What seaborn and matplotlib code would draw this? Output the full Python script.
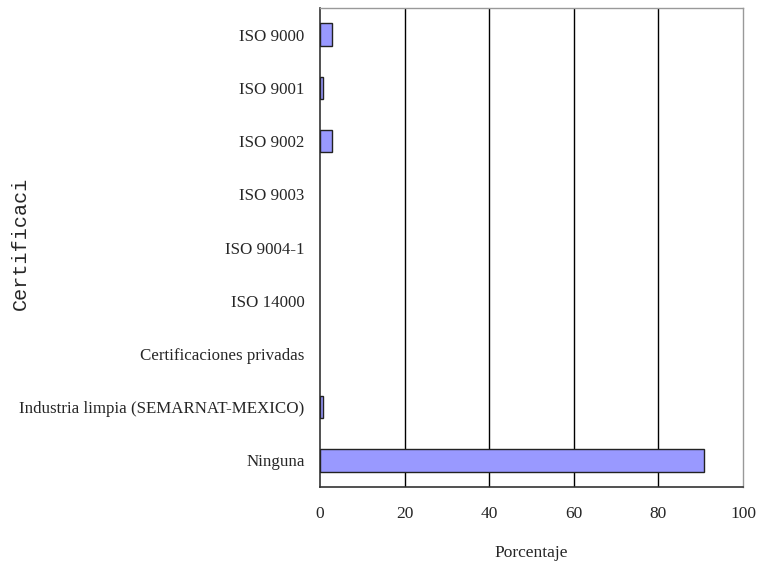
import matplotlib
matplotlib.use("Agg")
import matplotlib.pyplot as plt
import seaborn as sns
import numpy as np
import pandas as pd

# chart data
categorias = [
    "ISO 9000",
    "ISO 9001",
    "ISO 9002",
    "ISO 9003",
    "ISO 9004-1",
    "ISO 14000",
    "Certificaciones privadas",
    "Industria limpia (SEMARNAT-MEXICO)",
    "Ninguna",
]
porcentajes = [2.9, 0.6, 2.9, 0.0, 0.0, 0.0, 0.0, 0.6, 90.8]
x_ticks = [0, 20, 40, 60, 80, 100]

df = pd.DataFrame({"Certificacion": categorias, "Porcentaje": porcentajes})

sns.set_theme(style="white")
plt.rcParams["font.family"] = ["Liberation Serif", "DejaVu Serif"]

fig = plt.figure(figsize=(7.61, 5.63), dpi=100)
ax = fig.add_axes([0.4205, 0.135, 0.5558, 0.8507])

sns.barplot(data=df, x="Porcentaje", y="Certificacion", orient="h",
            color="#9999ff", saturation=1, width=0.42,
            edgecolor="#222222", linewidth=1.0, ax=ax, zorder=3)

# empty bars draw no outline
for p in ax.patches:
    if p.get_width() == 0:
        p.set_linewidth(0)

ax.set_xlim(0, 100)
ax.set_ylim(len(categorias) - 0.5, -0.5)
ax.set_xticks(x_ticks)
ax.set_xticklabels([str(t) for t in x_ticks], fontsize=12.5)

# gridlines at inner x ticks
for t in x_ticks[1:-1]:
    ax.axvline(t, color="black", linewidth=1.0, zorder=1)

# y ticks at category boundaries, labels in between
ax.set_yticks(np.arange(len(categorias)))
ax.set_yticklabels(categorias, fontsize=12.2)
ax.tick_params(axis="y", which="major", length=0, pad=11)
ax.set_yticks(np.arange(len(categorias) + 1) - 0.5, minor=True)
ax.tick_params(axis="y", which="minor", length=5, width=1, color="#333333",
               direction="out")
ax.tick_params(axis="x", length=5, width=1, color="#333333", direction="out",
               pad=9)

for side in ["top", "right"]:
    ax.spines[side].set_color("#999999")
    ax.spines[side].set_linewidth(1.0)
for side in ["left", "bottom"]:
    ax.spines[side].set_color("#333333")
    ax.spines[side].set_linewidth(1.2)

ax.set_xlabel("Porcentaje", fontsize=12.5, labelpad=16)
ax.set_ylabel("")
fig.text(0.027, 0.568, "Certificaci", rotation=90, ha="center", va="center",
         fontsize=14.5, family=["Liberation Mono", "DejaVu Sans Mono"])

fig.savefig("out.png", dpi=100)
